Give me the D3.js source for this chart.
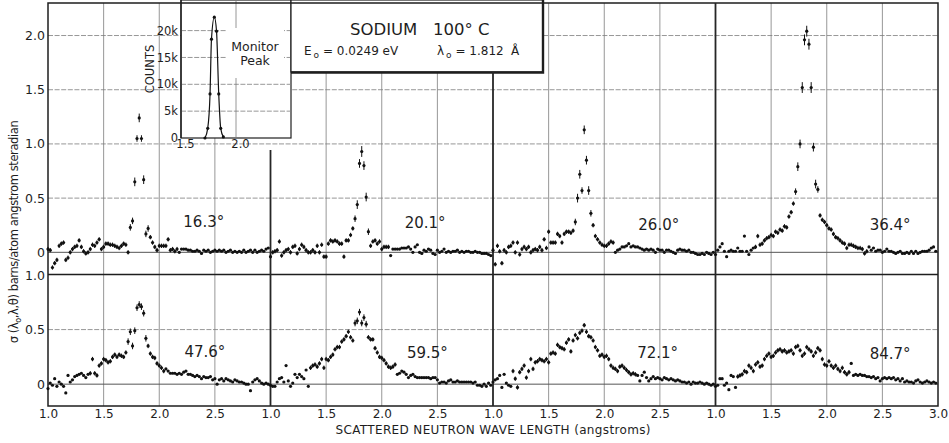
<!DOCTYPE html>
<html>
<head>
<meta charset="utf-8">
<title>Sodium 100 C</title>
<script src="https://cdn.jsdelivr.net/npm/d3@7"></script>
<style>
  body { margin: 0; background: #ffffff; }
  #chart svg { display: block; font-family: "DejaVu Sans", "Liberation Sans", sans-serif; }
  .grid_h { stroke: #7c7c7c; stroke-width: 0.8; stroke-dasharray: 5 1.6; }
  .grid_v { stroke: #7c7c7c; stroke-width: 0.8; }
  .zero_line { stroke: #555; stroke-width: 1; }
  .frame_line { stroke: #1e1e1e; stroke-width: 1.5; }
  .separator { stroke: #262626; stroke-width: 1.8; }
  .axis text { fill: #1e1e1e; font-family: "DejaVu Sans", sans-serif; }
  .axis .domain { display: none; }
  .point { fill: #111; }
  .err_bar { stroke: #111; stroke-width: 1; }
  .angle_text { font-size: 15px; fill: #1e1e1e; text-anchor: middle; }
  .box { fill: #fff; stroke: #1e1e1e; stroke-width: 1.2; }
</style>
</head>
<body>
<div id="chart"></div>
<script>
// wavelength channels (angstroms), shared by all eight detectors
const wavelengths = [1.00,1.02,1.04,1.06,1.08,1.10,1.12,1.14,1.16,1.18,
  1.20,1.22,1.24,1.26,1.28,1.30,1.32,1.34,1.36,1.38,
  1.40,1.42,1.44,1.46,1.48,1.50,1.52,1.54,1.56,1.58,
  1.60,1.62,1.64,1.66,1.68,1.70,1.72,1.74,1.76,1.78,
  1.80,1.82,1.84,1.86,1.88,1.90,1.92,1.94,1.96,1.98,
  2.00,2.02,2.04,2.06,2.08,2.10,2.12,2.14,2.16,2.18,
  2.20,2.22,2.24,2.26,2.28,2.30,2.32,2.34,2.36,2.38,
  2.40,2.42,2.44,2.46,2.48,2.50,2.52,2.54,2.56,2.58,
  2.60,2.62,2.64,2.66,2.68,2.70,2.72,2.74,2.76,2.78,
  2.80,2.82,2.84,2.86,2.88,2.90,2.92,2.94,2.96,2.98];

const angleLabels = ["16.3°", "20.1°", "26.0°", "36.4°", "47.6°", "59.5°", "72.1°", "84.7°"];

// cross sections, barns/atom angstrom steradian
const sigma163 = [0.03,0.02,-0.14,-0.10,-0.07,0.06,0.08,0.09,-0.07,-0.05,
  0.00,0.03,0.05,0.06,0.11,0.05,0.01,-0.01,0.00,0.03,
  0.07,0.06,0.09,0.12,0.03,0.05,0.08,0.08,0.07,0.07,
  0.06,0.05,0.04,0.06,0.08,0.07,0.00,0.23,0.29,0.65,
  1.05,1.24,1.05,0.67,0.17,0.22,0.14,0.09,0.05,0.02,
  0.06,0.06,0.06,0.06,0.12,0.02,0.03,0.01,0.03,0.00,
  0.03,0.03,0.03,0.02,0.02,0.01,0.01,0.02,0.01,-0.01,
  0.02,0.01,0.02,0.00,0.01,0.02,0.01,0.02,0.01,0.02,
  0.00,0.01,0.02,0.00,0.01,0.00,0.01,0.00,0.02,0.00,
  0.01,0.02,0.00,0.02,0.00,0.01,0.02,0.01,0.03,0.04];
const sigma201 = [-0.04,0.00,0.01,0.02,0.10,-0.03,0.00,0.02,0.03,0.00,
  0.05,0.06,-0.01,0.03,0.07,0.05,0.02,0.00,0.00,0.02,
  0.00,0.06,0.00,0.07,-0.04,-0.04,0.08,0.11,0.10,0.11,
  0.10,0.08,0.08,-0.04,0.11,0.11,0.16,0.22,0.31,0.44,
  0.82,0.93,0.80,0.51,0.19,0.06,0.10,0.11,0.08,0.10,
  0.03,0.05,0.05,0.05,-0.03,0.03,0.03,0.03,0.03,0.04,
  0.04,0.04,0.05,0.03,0.00,0.05,0.07,0.00,-0.01,0.02,
  0.01,0.03,0.02,-0.01,-0.02,0.02,0.00,0.01,0.03,0.00,
  0.01,0.00,0.01,0.01,0.02,0.00,0.01,0.00,0.01,0.01,
  0.00,0.00,0.01,0.00,0.00,-0.01,-0.01,-0.01,-0.02,-0.03];
const sigma260 = [0.02,-0.11,0.06,0.01,-0.10,0.02,0.00,0.05,0.06,0.09,
  0.00,0.09,-0.02,0.03,0.05,0.03,0.05,0.00,0.02,0.03,
  0.02,0.05,0.02,0.12,0.04,0.19,0.09,0.09,0.09,0.17,
  0.15,0.09,0.17,0.19,0.19,0.18,0.20,0.28,0.50,0.72,
  0.57,1.13,0.85,0.57,0.36,0.25,0.15,0.12,0.09,0.07,
  0.06,0.06,0.08,0.10,0.09,0.00,0.02,0.03,0.05,0.05,
  0.06,0.08,0.05,0.06,0.05,0.05,0.04,0.03,0.02,0.03,
  0.02,0.03,0.02,0.00,0.03,0.02,0.02,0.00,0.02,0.02,
  0.01,0.00,-0.01,0.02,0.03,0.02,0.02,0.01,0.02,0.00,
  0.00,-0.01,-0.02,-0.02,-0.01,-0.02,0.00,-0.01,-0.02,0.00];
const sigma364 = [-0.02,0.02,0.05,0.08,0.01,-0.04,0.01,0.02,0.01,0.01,
  0.04,0.01,0.01,0.15,0.01,-0.02,0.02,0.04,0.05,0.15,
  0.07,0.08,0.11,0.13,0.14,0.16,0.15,0.19,0.18,0.21,
  0.20,0.24,0.23,0.33,0.37,0.45,0.56,0.79,1.00,1.52,
  1.96,2.04,1.92,1.52,0.97,0.63,0.58,0.34,0.30,0.28,
  0.25,0.22,0.21,0.17,0.14,0.13,0.11,0.09,0.08,0.04,
  0.07,0.07,0.06,0.05,0.04,0.04,0.03,-0.01,0.01,0.05,
  0.02,0.04,0.01,0.02,0.02,0.00,0.01,0.03,0.01,0.01,
  0.00,-0.01,0.00,0.01,-0.01,-0.01,0.00,-0.01,0.01,-0.01,
  0.01,-0.01,0.00,0.01,0.01,0.01,0.02,0.04,0.05,0.01];
const sigma476 = [-0.04,0.01,-0.01,0.05,-0.02,0.02,0.00,-0.02,-0.08,0.08,
  0.02,0.04,0.07,0.08,0.09,0.10,0.08,0.06,0.09,0.10,
  0.23,0.10,0.08,0.17,0.19,0.23,0.22,0.20,0.21,0.25,
  0.27,0.25,0.27,0.26,0.25,0.29,0.39,0.48,0.35,0.49,
  0.70,0.73,0.71,0.65,0.42,0.35,0.28,0.25,0.24,0.19,
  0.17,0.15,0.12,0.14,0.12,0.10,0.10,0.10,0.09,0.10,
  0.09,0.11,0.12,0.09,0.09,0.08,0.07,0.08,0.07,0.05,
  0.07,0.06,0.06,0.07,0.04,0.05,0.00,0.04,0.05,0.03,
  0.05,0.04,0.03,0.02,0.04,0.03,0.02,0.02,0.01,0.00,
  0.00,-0.06,0.02,0.04,0.05,0.03,0.01,0.00,0.01,0.00];
const sigma595 = [-0.01,-0.02,-0.02,0.02,0.05,0.06,0.02,0.17,0.03,-0.02,
  0.01,0.09,0.06,0.09,0.07,0.05,0.13,-0.02,0.15,0.17,
  0.18,0.16,0.19,0.23,0.15,0.23,0.22,0.25,0.27,0.32,
  0.34,0.34,0.39,0.41,0.44,0.48,0.43,0.40,0.56,0.58,
  0.66,0.56,0.61,0.55,0.43,0.41,0.41,0.33,0.29,0.25,
  0.24,0.22,0.19,0.16,0.15,0.16,0.18,0.09,0.10,0.12,
  0.11,0.09,0.06,0.08,0.09,0.07,0.06,0.06,0.06,0.06,
  0.06,0.06,0.05,0.06,0.06,0.04,0.01,0.02,0.02,0.01,
  0.03,0.04,0.02,0.02,0.03,0.02,0.02,0.02,0.02,0.02,
  0.02,0.01,0.02,-0.01,-0.01,-0.02,0.00,-0.02,0.01,-0.01];
const sigma721 = [0.02,0.04,0.05,0.08,-0.03,0.09,0.01,-0.01,-0.02,0.12,
  0.05,-0.03,0.11,0.14,0.17,0.06,0.12,0.23,0.14,0.20,
  0.21,0.23,0.22,0.21,0.23,0.20,0.28,0.29,0.28,0.36,
  0.34,0.33,0.32,0.38,0.41,0.30,0.40,0.45,0.42,0.47,
  0.49,0.54,0.48,0.44,0.43,0.40,0.34,0.31,0.26,0.27,
  0.25,0.26,0.23,0.17,0.15,0.14,0.12,0.16,0.17,0.15,
  0.13,0.11,0.09,0.10,0.09,0.08,0.03,0.08,0.11,0.06,
  0.03,0.05,0.07,0.05,0.06,0.05,0.04,0.06,0.05,0.04,
  0.05,0.04,0.03,0.04,0.03,0.02,0.02,0.01,0.02,0.00,
  0.02,0.01,0.01,0.02,0.01,0.00,0.01,0.00,-0.01,0.00];
const sigma847 = [-0.02,-0.01,0.05,0.05,-0.01,0.01,-0.05,0.08,0.07,-0.03,
  0.07,0.08,0.09,0.12,0.11,0.17,0.15,0.12,0.18,0.20,
  0.16,0.17,0.23,0.26,0.28,0.25,0.26,0.29,0.31,0.32,
  0.30,0.31,0.29,0.30,0.31,0.28,0.34,0.35,0.31,0.26,
  0.28,0.34,0.32,0.30,0.26,0.29,0.33,0.31,0.23,0.18,
  0.17,0.21,0.17,0.15,0.17,0.14,0.12,0.15,0.11,0.09,
  0.11,0.19,0.08,0.09,0.08,0.09,0.08,0.08,0.07,0.07,
  0.06,0.07,0.05,0.06,0.03,0.05,0.06,0.05,0.06,0.05,
  0.06,0.04,0.05,0.03,0.05,0.02,0.03,0.02,0.02,0.01,
  0.03,0.04,0.02,0.01,0.02,0.03,0.02,0.01,0.02,0.01];

// error bar half lengths, in units of 0.01 (0 = plotted without a bar)
const err163 = [2,2,2,2,2,2,2,2,2,2, 2,2,2,2,2,2,2,2,2,2, 2,2,2,2,2,2,2,2,2,2,
  2,2,2,2,2,2,2,3,3,4, 3,4,3,4,3,3,2,2,2,2, 2,2,2,2,2,2,2,2,2,0,
  0,0,0,0,0,0,0,0,0,0, 0,0,0,0,0,0,0,0,0,0, 0,0,0,0,0,0,0,0,0,0, 0,0,0,0,0,0,0,0,0,0];
const err201 = [2,2,2,2,2,2,2,2,2,2, 2,2,2,2,2,2,2,2,2,2, 2,2,2,2,2,2,2,2,2,2,
  2,2,2,2,2,2,2,2,3,4, 4,5,4,4,3,2,2,2,2,2, 2,2,2,2,0,0,0,0,0,0,
  0,0,0,0,0,0,0,0,0,0, 0,0,0,0,0,0,0,0,0,0, 0,0,0,0,0,0,0,0,0,0, 0,0,0,0,0,0,0,0,0,0];
const err260 = [2,2,2,2,2,2,2,2,2,2, 2,2,2,2,2,2,2,2,2,2, 2,2,2,2,2,2,2,2,2,2,
  2,2,2,2,2,2,2,3,4,4, 3,4,4,4,3,2,2,2,2,2, 2,2,2,2,2,0,0,0,0,0,
  0,0,0,0,0,0,0,0,0,0, 0,0,0,0,0,0,0,0,0,0, 0,0,0,0,0,0,0,0,0,0, 0,0,0,0,0,0,0,0,0,0];
const err364 = [0,0,0,0,0,0,0,0,0,0, 0,0,0,0,0,0,0,0,2,2, 2,2,2,2,2,2,2,2,2,2,
  2,2,2,2,2,2,3,4,4,5, 5,5,5,5,4,4,3,2,2,2, 2,2,2,2,2,2,2,2,2,2,
  2,2,2,2,2,2,2,2,2,0, 0,0,0,0,0,0,0,0,0,0, 0,0,0,0,0,0,0,0,0,0, 0,0,0,0,0,0,0,0,0,0];
const err476 = [0,0,0,0,0,0,0,0,0,0, 0,0,0,0,0,0,0,0,0,2, 2,2,2,2,2,2,2,2,2,2,
  2,2,2,2,2,2,3,3,3,3, 3,3,3,3,3,2,2,2,2,2, 2,2,2,0,0,0,0,0,0,0,
  0,0,0,0,0,0,0,0,0,0, 0,0,0,0,0,0,0,0,0,0, 0,0,0,0,0,0,0,0,0,0, 0,0,0,0,0,0,0,0,0,0];
const err595 = [0,0,0,0,0,0,0,0,0,0, 0,0,0,0,0,0,0,0,2,2, 2,2,2,2,2,2,2,2,2,2,
  2,2,2,2,2,2,2,2,3,3, 3,3,3,3,2,2,2,2,2,2, 2,2,2,2,2,2,2,0,0,0,
  0,0,0,0,0,0,0,0,0,0, 0,0,0,0,0,0,0,0,0,0, 0,0,0,0,0,0,0,0,0,0, 0,0,0,0,0,0,0,0,0,0];
const err721 = [0,0,0,0,0,0,0,0,0,2, 2,2,2,2,2,2,2,2,2,2, 2,2,2,2,2,2,2,2,2,2,
  2,2,2,2,2,2,2,2,2,2, 2,2,2,2,2,2,2,2,2,2, 2,2,2,2,2,2,2,2,2,2,
  2,2,2,2,2,0,0,0,0,0, 0,0,0,0,0,0,0,0,0,0, 0,0,0,0,0,0,0,0,0,0, 0,0,0,0,0,0,0,0,0,0];
const err847 = [0,0,0,0,0,0,0,0,0,0, 2,2,2,2,2,2,2,2,2,2, 2,2,2,2,2,2,2,2,2,2,
  2,2,2,2,2,2,2,2,2,2, 2,2,2,2,2,2,2,2,2,2, 2,2,2,2,2,2,2,2,2,2,
  2,0,0,0,0,0,0,0,0,0, 0,0,0,0,0,0,0,0,0,0, 0,0,0,0,0,0,0,0,0,0, 0,0,0,0,0,0,0,0,0,0];

const sigmaSeries = [sigma163, sigma201, sigma260, sigma364, sigma476, sigma595, sigma721, sigma847];
const errorSeries = [err163, err201, err260, err364, err476, err595, err721, err847];

// monitor peak inset (counts in thousands)
const monitorWavelengths = [1.718, 1.743, 1.764, 1.777, 1.803, 1.823, 1.843, 1.861, 1.885];
const monitorCounts = [0.0, 1.8, 8.2, 18.4, 22.5, 19.9, 8.2, 1.8, 0.2];

// tick labels
const xTickValues = [1.0, 1.5, 2.0, 2.5];
const yTicksTop = [0, 0.5, 1.0, 1.5, 2.0];
const yTicksBottom = [0, 0.5, 1.0];
const insetCountTicks = [0, 5, 10, 15, 20];
const insetWaveTicks = [1.5, 2.0];

let svg, xScales, yTop, yBottom, insetX, insetY;
const frame = {left: 48, right: 938, top: 3, split: 274.5, bottom: 406};
const panelWidth = (frame.right - frame.left) / 4;

defineSVG();
setScales();
drawGrid();
drawInset();
drawTitleBox();
drawFrame();
drawAxes();
drawPanels();
drawAxisTitles();

function defineSVG(){
    svg = d3.select("#chart").append("svg")
        .attr("width", 949)
        .attr("height", 443);
    svg.append("rect")
        .attr("width", 949)
        .attr("height", 443)
        .attr("fill", "#fff");
}

function setScales(){
    xScales = [0, 1, 2, 3].map(c => d3.scaleLinear()
        .domain([1, 3])
        .range([frame.left + c * panelWidth, frame.left + (c + 1) * panelWidth]));
    yTop = d3.scaleLinear().domain([-0.2, 2.3]).range([274, frame.top]);
    yBottom = d3.scaleLinear().domain([-0.2, 1.0]).range([frame.bottom, 275]);

    insetX = d3.scaleLinear().domain([1.5, 2.5]).range([181, 291]);
    insetY = d3.scaleLinear().domain([0, 25.7]).range([138, 0]);
}

function drawGrid(){
    const g = svg.append("g").attr("id", "g_grid");

    // vertical lines inside each panel
    const verticals = [];
    xScales.forEach(x => [1.5, 2.0, 2.5].forEach(v => verticals.push(x(v))));
    g.selectAll(".grid_v").data(verticals).join("line")
        .attr("class", "grid_v")
        .attr("x1", d => d).attr("x2", d => d)
        .attr("y1", frame.top).attr("y2", frame.bottom);

    const rows = [
        {y: yTop, dashed: [0.5, 1.0, 1.5, 2.0]},
        {y: yBottom, dashed: [0.5]}
    ];
    rows.forEach(r => {
        g.append("g").selectAll("line").data(r.dashed).join("line")
            .attr("class", "grid_h")
            .attr("x1", frame.left).attr("x2", frame.right)
            .attr("y1", d => r.y(d)).attr("y2", d => r.y(d));
        g.append("line")
            .attr("class", "zero_line")
            .attr("x1", frame.left).attr("x2", frame.right)
            .attr("y1", r.y(0)).attr("y2", r.y(0));
    });
}

function drawInset(){
    const g = svg.append("g").attr("id", "g_inset");
    const [x0, x1] = insetX.range();
    const [yb, yt] = insetY.range();

    g.append("rect")
        .attr("class", "box")
        .attr("x", x0).attr("y", yt)
        .attr("width", x1 - x0).attr("height", yb - yt);

    g.selectAll(".grid_h").data(insetCountTicks.slice(1)).join("line")
        .attr("class", "grid_h")
        .attr("x1", x0).attr("x2", x1)
        .attr("y1", d => insetY(d)).attr("y2", d => insetY(d));
    g.append("line")
        .attr("class", "grid_v")
        .attr("x1", insetX(2.0)).attr("x2", insetX(2.0))
        .attr("y1", yt).attr("y2", yb);

    // white patch under the "Monitor Peak" caption
    g.append("rect")
        .attr("x", 226).attr("y", 28)
        .attr("width", 58).attr("height", 50)
        .attr("fill", "#fff");
    g.append("text")
        .attr("x", 255).attr("y", 51)
        .attr("text-anchor", "middle")
        .attr("font-size", 12.5)
        .attr("fill", "#1e1e1e")
        .text("Monitor");
    g.append("text")
        .attr("x", 255).attr("y", 65)
        .attr("text-anchor", "middle")
        .attr("font-size", 12.5)
        .attr("fill", "#1e1e1e")
        .text("Peak");

    g.append("line")
        .attr("x1", x0).attr("x2", x0).attr("y1", yt).attr("y2", yb)
        .attr("stroke", "#1e1e1e").attr("stroke-width", 1.3);

    const line = d3.line()
        .x(d => insetX(d[0]))
        .y(d => insetY(d[1]))
        .curve(d3.curveMonotoneX);
    const pts = monitorWavelengths.map((w, i) => [w, monitorCounts[i]]);
    g.append("path")
        .datum(pts)
        .attr("d", line)
        .attr("fill", "none")
        .attr("stroke", "#111")
        .attr("stroke-width", 1.2);
    g.selectAll("circle").data(pts).join("circle")
        .attr("cx", d => insetX(d[0]))
        .attr("cy", d => insetY(d[1]))
        .attr("r", 1.6)
        .attr("fill", "#111");

    g.append("g")
        .attr("class", "axis")
        .attr("transform", `translate(${x0},0)`)
        .call(d3.axisLeft(insetY).tickValues(insetCountTicks)
            .tickFormat(d => d === 0 ? "0" : d + "k")
            .tickSize(0).tickPadding(3))
        .selectAll("text").attr("font-size", 11.5);

    g.append("g")
        .attr("class", "axis")
        .attr("transform", `translate(4,${yb})`)
        .call(d3.axisBottom(insetX).tickValues(insetWaveTicks)
            .tickFormat(d3.format(".1f"))
            .tickSize(0).tickPadding(2))
        .selectAll("text").attr("font-size", 11.5);

    g.append("text")
        .attr("transform", "translate(154,69) rotate(-90)")
        .attr("text-anchor", "middle")
        .attr("font-size", 11.5)
        .attr("fill", "#1e1e1e")
        .text("COUNTS");
}

function drawTitleBox(){
    const g = svg.append("g").attr("id", "g_title");
    g.append("rect")
        .attr("class", "box")
        .attr("x", 291).attr("y", 0)
        .attr("width", 252).attr("height", 72);
    // heavier right and bottom edges
    g.append("path")
        .attr("d", "M543,0 V72.5 H291")
        .attr("fill", "none")
        .attr("stroke", "#1e1e1e")
        .attr("stroke-width", 2.4);

    g.append("text")
        .attr("x", 350).attr("y", 35)
        .attr("font-size", 16.5)
        .attr("fill", "#1e1e1e")
        .text("SODIUM");
    g.append("text")
        .attr("x", 433).attr("y", 35)
        .attr("font-size", 16.5)
        .attr("fill", "#1e1e1e")
        .text("100° C");

    const e0 = g.append("text")
        .attr("x", 304).attr("y", 55)
        .attr("font-size", 12)
        .attr("fill", "#1e1e1e");
    e0.append("tspan").text("E");
    e0.append("tspan").attr("font-size", 9).attr("dx", 2).attr("dy", 3).text("o");
    e0.append("tspan").attr("dy", -3).text(" = 0.0249  eV");

    const l0 = g.append("text")
        .attr("x", 437).attr("y", 55)
        .attr("font-size", 12)
        .attr("fill", "#1e1e1e");
    l0.append("tspan").text("λ");
    l0.append("tspan").attr("font-size", 9).attr("dx", 2).attr("dy", 3).text("o");
    l0.append("tspan").attr("dy", -3).text(" = 1.812");
    g.append("text")
        .attr("x", 511).attr("y", 55)
        .attr("font-size", 12)
        .attr("fill", "#1e1e1e")
        .text("Å");
}

function drawFrame(){
    const g = svg.append("g").attr("id", "g_frame");
    g.append("rect")
        .attr("x", frame.left).attr("y", frame.top)
        .attr("width", frame.right - frame.left)
        .attr("height", frame.bottom - frame.top)
        .attr("fill", "none")
        .attr("class", "frame_line");
    g.append("line")
        .attr("class", "frame_line")
        .attr("x1", frame.left).attr("x2", frame.right)
        .attr("y1", frame.split).attr("y2", frame.split);
    // panel separators start below the inset / title box where they pass under them
    const sepTop = [150, 72, frame.top];
    g.selectAll(".separator").data(xScales.slice(1)).join("line")
        .attr("class", "separator")
        .attr("x1", d => d(1)).attr("x2", d => d(1))
        .attr("y1", (d, i) => sepTop[i])
        .attr("y2", frame.bottom);
}

function drawAxes(){
    xScales.forEach((x, c) => {
        const ticks = c === 3 ? xTickValues.concat([3.0]) : xTickValues;
        svg.append("g")
            .attr("class", "axis")
            .attr("transform", `translate(0,${frame.bottom})`)
            .call(d3.axisBottom(x).tickValues(ticks)
                .tickFormat(d3.format(".1f"))
                .tickSize(0).tickPadding(3))
            .selectAll("text").attr("font-size", 12);
    });

    const fmt = d => d === 0 ? "0" : d3.format(".1f")(d);
    [[yTop, yTicksTop], [yBottom, yTicksBottom]].forEach(([y, ticks]) => {
        svg.append("g")
            .attr("class", "axis")
            .attr("transform", `translate(${frame.left},0)`)
            .call(d3.axisLeft(y).tickValues(ticks)
                .tickFormat(fmt)
                .tickSize(0).tickPadding(3))
            .selectAll("text").attr("font-size", 12.5);
    });
}

function drawPanels(){
    const labelLambda = [2.40, 2.39, 2.49, 2.57, 2.41, 2.41, 2.48, 2.57];
    const labelSigma = [0.23, 0.22, 0.21, 0.21, 0.25, 0.24, 0.24, 0.23];

    sigmaSeries.forEach((series, i) => {
        const x = xScales[i % 4];
        const y = i < 4 ? yTop : yBottom;
        const pts = wavelengths.map((w, k) => ({w: w, s: series[k], e: errorSeries[i][k] / 100}));

        const g = svg.append("g").attr("class", "panel");
        g.selectAll(".err_bar").data(pts.filter(d => d.e > 0)).join("line")
            .attr("class", "err_bar")
            .attr("x1", d => x(d.w)).attr("x2", d => x(d.w))
            .attr("y1", d => y(d.s - d.e)).attr("y2", d => y(d.s + d.e));
        g.selectAll(".point").data(pts).join("circle")
            .attr("class", "point")
            .attr("cx", d => x(d.w))
            .attr("cy", d => y(d.s))
            .attr("r", 1.6);

        g.append("text")
            .attr("class", "angle_text")
            .attr("x", x(labelLambda[i]))
            .attr("y", y(labelSigma[i]))
            .text(angleLabels[i]);
    });
}

function drawAxisTitles(){
    svg.append("text")
        .attr("x", (frame.left + frame.right) / 2)
        .attr("y", 434)
        .attr("text-anchor", "middle")
        .attr("font-size", 12)
        .attr("textLength", 315)
        .attr("lengthAdjust", "spacing")
        .attr("fill", "#1e1e1e")
        .text("SCATTERED NEUTRON WAVE LENGTH (angstroms)");

    const t = svg.append("text")
        .attr("transform", "translate(18,232) rotate(-90)")
        .attr("text-anchor", "middle")
        .attr("font-size", 11.5)
        .attr("letter-spacing", -0.4)
        .attr("fill", "#1e1e1e");
    t.append("tspan").text("σ (λ");
    t.append("tspan").attr("font-size", 8).attr("dy", 3).text("o");
    t.append("tspan").attr("dy", -3).text(",λ,θ) barns/atom angstrom steradian");
}
</script>
</body>
</html>
